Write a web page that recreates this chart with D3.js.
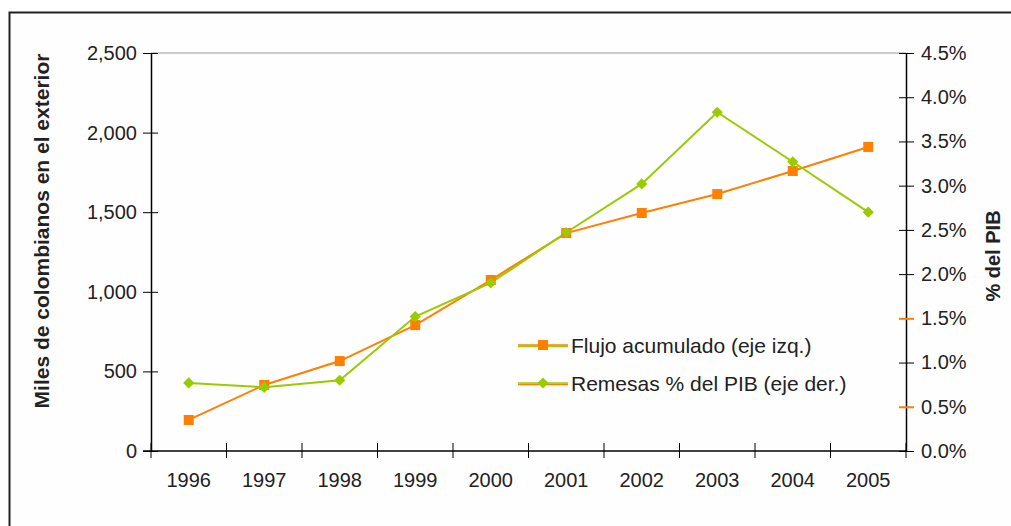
<!DOCTYPE html>
<html>
<head>
<meta charset="utf-8">
<script src="https://cdnjs.cloudflare.com/ajax/libs/d3/7.8.5/d3.min.js"></script>
<style>
body { margin: 0; background: #fff; }
svg { font-family: "Liberation Sans", Arial, sans-serif; }
</style>
</head>
<body>
<div id="container"></div>
<script>
// data
var years = ["1996","1997","1998","1999","2000","2001","2002","2003","2004","2005"];
var flujo = [195, 415, 565, 791, 1074, 1369, 1495, 1614, 1759, 1910];     // miles, left axis
var remesas = [0.77, 0.72, 0.80, 1.52, 1.90, 2.47, 3.02, 3.83, 3.27, 2.70]; // % PIB, right axis
var leftTicks = [0, 500, 1000, 1500, 2000, 2500];
var rightTicks = [0, 0.5, 1, 1.5, 2, 2.5, 3, 3.5, 4, 4.5];

var W = 1011, H = 526;
var margin = {top: 53, right: 105, bottom: 75, left: 151};
var width = W - margin.left - margin.right,
	height = H - margin.top - margin.bottom;
var orange = "#ff7f00", green = "#99cc00";

var svg = d3.select("#container").append("svg")
	.attr("width", W)
	.attr("height", H);

svg.append("rect")
	.attr("x", 9.5).attr("y", 12.5)
	.attr("width", 1010).attr("height", 600)
	.style("fill", "#fefefe")
	.style("stroke", "#222")
	.style("stroke-width", 2);

var g = svg.append("g")
	.attr("transform", "translate(" + margin.left + "," + margin.top + ")");

var x = d3.scaleBand().domain(years).range([0, width]);
var yL = d3.scaleLinear().domain([0, 2500]).range([height, 0]);
var yR = d3.scaleLinear().domain([0, 4.5]).range([height, 0]);

// top gridline
g.append("line")
	.attr("x1", 0).attr("x2", width)
	.attr("y1", yL(2500)).attr("y2", yL(2500))
	.style("stroke", "#999");

var leftAxis = d3.axisLeft(yL).tickValues(leftTicks)
	.tickFormat(d3.format(",")).tickSizeInner(8).tickSizeOuter(0).tickPadding(6);
var la = g.append("g").attr("class", "y axis").call(leftAxis);
la.selectAll(".tick line").attr("x1", 7);

var rightAxis = d3.axisRight(yR).tickValues(rightTicks)
	.tickFormat(function(d){ return d.toFixed(1) + "%"; })
	.tickSizeInner(8).tickSizeOuter(0).tickPadding(7);
var ra = g.append("g").attr("class", "y2 axis")
	.attr("transform", "translate(" + width + ",0)")
	.call(rightAxis);
ra.selectAll(".tick line").attr("x1", -7)
	.style("stroke", function(d){ return (d == 0.5 || d == 1.5) ? orange : "#000"; })
	.style("stroke-width", function(d){ return (d == 0.5 || d == 1.5) ? 2 : 1; });

var xAxis = d3.axisBottom(x).tickSize(0).tickPadding(22);
var xa = g.append("g").attr("class", "x axis")
	.attr("transform", "translate(0," + height + ")")
	.call(xAxis);
xa.select(".domain").attr("d", "M-8,0H" + width);
// category boundary ticks
xa.selectAll(".sep").data(d3.range(0, years.length + 1)).enter()
	.append("line")
	.attr("class", "sep")
	.attr("x1", function(i){ return i * x.step(); })
	.attr("x2", function(i){ return i * x.step(); })
	.attr("y1", -8).attr("y2", 7)
	.style("stroke", "#000");

g.selectAll(".domain").style("stroke", "#000").style("stroke-width", 1.5);
g.selectAll(".tick text").style("font-size", "20px").style("fill", "#222");

var cx = function(i){ return x(years[i]) + x.bandwidth() / 2; };

// lines
g.append("path")
	.datum(flujo)
	.attr("d", d3.line().x(function(d, i){ return cx(i); }).y(function(d){ return yL(d); }))
	.style("fill", "none").style("stroke", orange).style("stroke-width", 2);

g.append("path")
	.datum(remesas)
	.attr("d", d3.line().x(function(d, i){ return cx(i); }).y(function(d){ return yR(d); }))
	.style("fill", "none").style("stroke", green).style("stroke-width", 2);

g.selectAll(".sq").data(flujo).enter()
	.append("rect")
	.attr("class", "sq")
	.attr("x", function(d, i){ return cx(i) - 5; })
	.attr("y", function(d){ return yL(d) - 5; })
	.attr("width", 10).attr("height", 10)
	.style("fill", orange);

var diamond = d3.symbol().type(d3.symbolDiamond2).size(80);
g.selectAll(".dia").data(remesas).enter()
	.append("path")
	.attr("class", "dia")
	.attr("d", diamond)
	.attr("transform", function(d, i){ return "translate(" + cx(i) + "," + yR(d) + ")"; })
	.style("fill", green);

// legend
var legend = [
	{label: "Flujo acumulado (eje izq.)", color: orange, under: green, mark: "sq", y: 345},
	{label: "Remesas % del PIB (eje der.)", color: green, under: orange, mark: "dia", y: 383}
];
var lg = svg.selectAll(".leg").data(legend).enter().append("g")
	.attr("class", "leg")
	.attr("transform", function(d){ return "translate(518," + d.y + ")"; });
lg.append("line").attr("x1", 0).attr("x2", 50).attr("y1", 1.5).attr("y2", 1.5)
	.style("stroke", function(d){ return d.under; }).style("stroke-width", 1.5);
lg.append("line").attr("x1", 0).attr("x2", 50).attr("y1", 0).attr("y2", 0)
	.style("stroke", function(d){ return d.color; }).style("stroke-width", 1.5);
lg.filter(function(d){ return d.mark == "sq"; }).append("rect")
	.attr("x", 20).attr("y", -5).attr("width", 10).attr("height", 10)
	.style("fill", orange);
lg.filter(function(d){ return d.mark == "dia"; }).append("path")
	.attr("d", diamond).attr("transform", "translate(25,0)")
	.style("fill", green);
lg.append("text")
	.attr("x", 53).attr("y", 7.5)
	.style("font-size", "21px").style("fill", "#222")
	.text(function(d){ return d.label; });

// axis titles
svg.append("text")
	.attr("transform", "translate(49,231) rotate(-90)")
	.style("text-anchor", "middle")
	.style("font-size", "21px").style("font-weight", "bold").style("fill", "#222")
	.text("Miles de colombianos en el exterior");

svg.append("text")
	.attr("transform", "translate(1000,256) rotate(-90)")
	.style("text-anchor", "middle")
	.style("font-size", "20px").style("font-weight", "bold").style("fill", "#222")
	.text("% del PIB");
</script>
</body>
</html>
